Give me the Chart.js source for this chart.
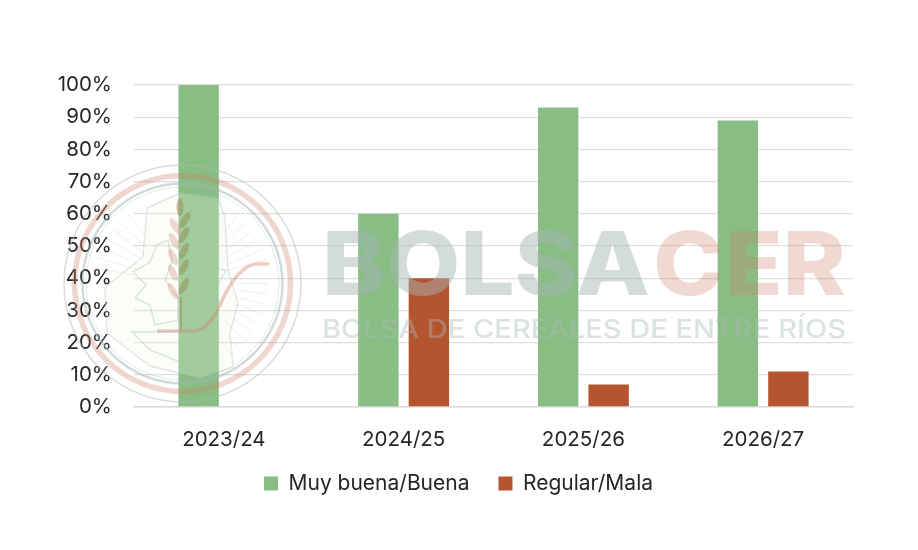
<!DOCTYPE html>
<html>
<head>
<meta charset="utf-8">
<style>
html,body{margin:0;padding:0;background:#fff}
#wrap{width:918px;height:550px}
</style>
<script src="https://cdn.jsdelivr.net/npm/chart.js@4"></script>
</head>
<body>
<div id="wrap"><canvas id="c" width="918" height="550"></canvas></div>
<script>
const categories = ["2023/24","2024/25","2025/26","2026/27"];
const goodLabel = "Muy buena/Buena";
const badLabel = "Regular/Mala";
const goodValues = [100,60,93,89];
const badValues = [null,40,7,11];
const tickStep = 10;
const FONT = 'Inter,"Open Sans",sans-serif';
const FS = 20.5;

function stretchText(ctx,text,x0,x1,y){
  const w=ctx.measureText(text).width;
  ctx.save();
  ctx.translate(x0,y);
  ctx.scale((x1-x0)/w,1);
  ctx.fillText(text,0,0);
  ctx.restore();
}
const legendShift={
  id:'legendShift',
  afterLayout(chart){
    const l=chart.legend;
    l.left+=4;l.right+=4;l.top-=6;l.bottom-=6;
  }
};
const watermark={
  id:'watermark',
  afterDraw(chart){
    const ctx=chart.ctx;
    ctx.save();
    ctx.textAlign='left';ctx.textBaseline='alphabetic';
    ctx.font='800 88px Inter,"Open Sans",sans-serif';
    ctx.fillStyle='rgba(165,180,180,0.48)';
    stretchText(ctx,'BOLSA',322,650,295);
    ctx.fillStyle='rgba(205,130,105,0.30)';
    stretchText(ctx,'CER',653,846,295);
    ctx.font='500 25px Inter,"Open Sans",sans-serif';
    ctx.fillStyle='rgba(170,185,185,0.42)';
    stretchText(ctx,'BOLSA DE CEREALES DE ENTRE RÍOS',322,846,338);
    // emblem
    const cx=182.5,cy=283.5;
    const ring=(r,w,col)=>{ctx.beginPath();ctx.arc(cx,cy,r,0,Math.PI*2);ctx.lineWidth=w;ctx.strokeStyle=col;ctx.stroke();};
    ring(118.5,1.4,'rgba(170,185,185,0.5)');
    ring(108,5.5,'rgba(205,130,105,0.33)');
    ring(100,2.4,'rgba(165,180,180,0.5)');
    ring(96.5,1,'rgba(165,180,180,0.3)');
    // rays
    ctx.lineWidth=0.7;ctx.strokeStyle='rgba(205,130,105,0.22)';
    for(let a=-170;a<=-10;a+=7){
      if(a>-125&&a<-55)continue;
      const t=a*Math.PI/180;
      ctx.beginPath();ctx.moveTo(cx+Math.cos(t)*48,cy+Math.sin(t)*48);
      ctx.lineTo(cx+Math.cos(t)*88,cy+Math.sin(t)*88);ctx.stroke();
    }
    for(let a=0;a<=60;a+=7){
      const t=a*Math.PI/180;
      ctx.beginPath();ctx.moveTo(cx+Math.cos(t)*55,cy+Math.sin(t)*55);
      ctx.lineTo(cx+Math.cos(t)*86,cy+Math.sin(t)*86);ctx.stroke();
    }
    // province outline
    ctx.beginPath();
    ctx.moveTo(147,208);ctx.lineTo(180,193);ctx.lineTo(218,198);ctx.lineTo(225,217);
    ctx.lineTo(228,270);ctx.lineTo(238,303);ctx.lineTo(230,333);
    ctx.lineTo(233,367);ctx.lineTo(200,378);ctx.lineTo(150,366);
    ctx.lineTo(107,333);ctx.lineTo(105,287);ctx.lineTo(143,257);ctx.closePath();
    ctx.fillStyle='rgba(238,246,230,0.25)';ctx.fill();
    ctx.lineWidth=1.4;ctx.strokeStyle='rgba(170,185,185,0.35)';ctx.stroke();
    // inner gear-like outline
    ctx.beginPath();
    ctx.moveTo(157,245);ctx.lineTo(168,240);ctx.lineTo(172,262);ctx.lineTo(165,280);ctx.lineTo(178,298);
    ctx.lineTo(178,320);ctx.lineTo(155,325);ctx.lineTo(150,305);ctx.lineTo(135,298);ctx.lineTo(146,285);
    ctx.lineTo(133,272);ctx.lineTo(150,262);ctx.closePath();
    ctx.moveTo(190,265);ctx.lineTo(203,243);ctx.lineTo(213,255);ctx.lineTo(210,268);ctx.lineTo(226,270);
    ctx.lineTo(214,292);ctx.lineTo(218,302);ctx.lineTo(205,315);ctx.lineTo(195,325);
    ctx.strokeStyle='rgba(170,185,185,0.4)';ctx.stroke();
    // plough / stem
    ctx.beginPath();ctx.moveTo(157,331);ctx.lineTo(195,331);ctx.quadraticCurveTo(208,330,220,305);
    ctx.quadraticCurveTo(238,264,258,264);ctx.lineTo(269,264);
    ctx.lineWidth=3.5;ctx.strokeStyle='rgba(205,130,105,0.4)';ctx.stroke();
    ctx.beginPath();ctx.moveTo(132,332);ctx.lineTo(208,331);ctx.lineTo(182,363);ctx.lineTo(150,350);ctx.closePath();
    ctx.lineWidth=1.4;ctx.strokeStyle='rgba(170,185,185,0.4)';ctx.stroke();
    ctx.beginPath();ctx.moveTo(181,297);ctx.lineTo(181,330);ctx.lineWidth=2;ctx.strokeStyle='rgba(150,140,80,0.5)';ctx.stroke();
    // wheat grains
    const leaf=(x,y,rot,col)=>{ctx.beginPath();ctx.ellipse(x,y,3.5,9,rot,0,Math.PI*2);ctx.fillStyle=col;ctx.fill();};
    const gr='rgba(150,145,85,0.55)',rd='rgba(205,130,105,0.3)';
    leaf(180,207,0,gr);
    [[185,220,.55],[184,235,.5],[184,251,.45],[184,267,.45],[184,286,.5]].forEach(p=>leaf(p[0],p[1],p[2],gr));
    [[175,226,-.55],[174,241,-.5],[173,257,-.45],[173,273,-.45],[173,291,-.5]].forEach(p=>leaf(p[0],p[1],p[2],rd));
    ctx.restore();
  }
};

new Chart(document.getElementById('c'),{
  type:'bar',
  data:{labels:categories,datasets:[
    {label:goodLabel,data:goodValues,backgroundColor:'#88BE84',categoryPercentage:0.562,barPercentage:0.8},
    {label:badLabel,data:badValues,backgroundColor:'#B55530',categoryPercentage:0.562,barPercentage:0.8}
  ]},
  plugins:[legendShift,watermark],
  options:{
    responsive:false,animation:false,
    layout:{padding:{left:56,right:65,top:85,bottom:40}},
    plugins:{
      tooltip:{enabled:false},
      legend:{position:'bottom',labels:{font:{family:FONT,size:21},color:'#262626',boxWidth:14,boxHeight:14,padding:29}}
    },
    scales:{
      x:{grid:{display:false},border:{color:'#d9d9d9',width:1.5},
        afterFit(s){s.height=43;},
        ticks:{font:{family:FONT,size:FS},color:'#262626',padding:13,maxRotation:0}},
      y:{min:0,max:100,grid:{color:'#dedede',lineWidth:1.3,drawTicks:false},border:{display:false},
        afterFit(s){s.width=78;},
        ticks:{stepSize:tickStep,font:{family:FONT,size:FS},color:'#262626',padding:22,callback:v=>v+'%'}}
    }
  }
});
</script>
</body>
</html>
